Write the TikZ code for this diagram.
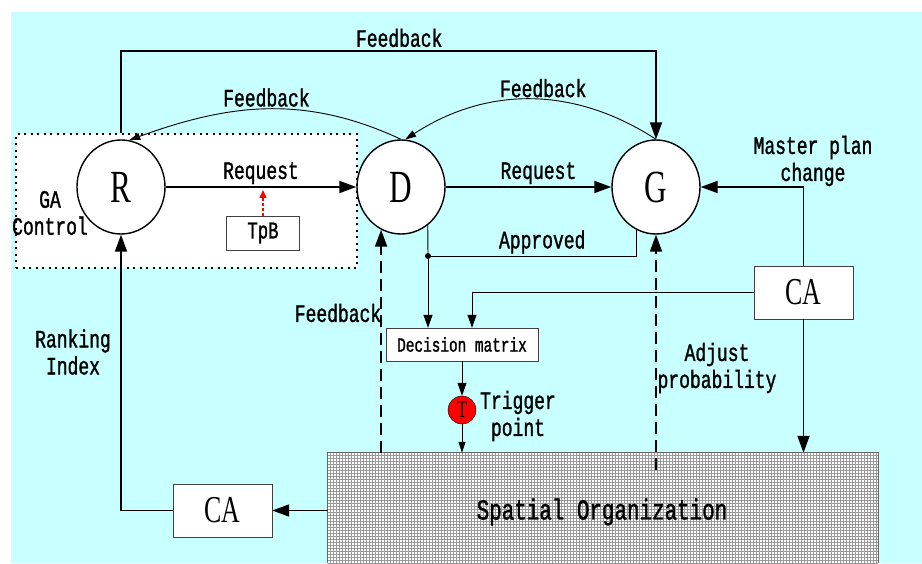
\documentclass[tikz,border=0pt]{standalone}
\usepackage{fontspec}
\usetikzlibrary{arrows.meta,positioning,shapes.geometric,patterns}
\newfontfamily\lblfont[FakeStretch=0.72,FakeBold=1.2]{Liberation Mono}
\newfontfamily\bigfont[FakeStretch=0.68]{Liberation Serif}
\definecolor{skycyan}{HTML}{C8FFFF}
\tikzset{
  lbl/.style={font=\lblfont\fontsize{25}{27}\selectfont, align=center, inner sep=2pt},
  agent/.style={draw, ellipse, line width=1.4pt, fill=white, minimum width=88pt,
    minimum height=94pt, inner sep=0pt, font=\bigfont\fontsize{46}{46}\selectfont},
  cabox/.style={draw=black!75, fill=white, minimum width=99pt, minimum height=53pt,
    inner sep=0pt, font=\bigfont\fontsize{38}{38}\selectfont},
  smallbox/.style={draw=black!75, fill=white, inner sep=0pt},
  bigarrow/.style={line width=1.8pt, -{Triangle[length=17pt,width=12pt]}},
  thinarrow/.style={line width=0.9pt, -{Triangle[length=13pt,width=9pt]}},
  curvearrow/.style={line width=0.9pt, -{Triangle[length=11pt,width=7pt]}},
  dasharrow/.style={bigarrow, dash pattern=on 12pt off 6pt},
}

\begin{document}
\begin{tikzpicture}[x=1pt, y=1pt]
  \useasboundingbox (0,0) rectangle (922,563);
  \fill[skycyan] (11,0) rectangle (922,551);

  % GA control group
  \node[draw, line width=2.2pt, dash pattern=on 2pt off 4.5pt, fill=white,
    minimum width=341pt, minimum height=134pt, inner sep=0pt] (gabox) at (186.5,362) {};

  % agents
  \node[agent] (R) at (121,376) {R};
  \node[agent] (D) at (401,376) {D};
  \node[agent] (G) at (656,376) {G};

  \node[smallbox, minimum width=73pt, minimum height=34pt,
    font=\lblfont\fontsize{24}{24}\selectfont] (tpb) at (263,330) {TpB};
  \node[smallbox, minimum width=152pt, minimum height=33pt,
    font=\lblfont\fontsize{20}{20}\selectfont] (dm) at (462,218.5) {Decision matrix};
  \node[circle, draw, fill=red, minimum size=28pt, inner sep=0pt,
    font=\bigfont\fontsize{24}{24}\selectfont] (T) at (462,153) {T};
  \node[cabox] (caR) at (803.5,270.5) {CA};
  \node[cabox] (caL) at (222.5,52.5) {CA};

  % spatial organization
  \node[minimum width=550pt, minimum height=110pt, preaction={fill=white},
    pattern=grid, pattern color=black!40] (space) at (603,55) {};
  \draw[black!60, line width=0.8pt] (space.south west) -- (space.north west)
    -- (space.north east) -- (space.south east);
  \node[lbl, font=\lblfont\fontsize{29}{29}\selectfont] (spacetxt) at (602,51) {Spatial Organization};

  \coordinate (fbtop) at (400,512);
  \coordinate (tpbtip) at (263,373);
  \node[circle, fill, inner sep=0pt, minimum size=6pt] (jn) at (428,307) {};

  % requests
  \draw[bigarrow] (R) -- node[lbl, above] {Request} (D);
  \draw[bigarrow] (D) -- node[lbl, above, pos=0.56] {Request} (G);
  \draw[red, line width=1.4pt, dash pattern=on 3pt off 2pt, -{Triangle[length=8pt,width=7pt]}] (tpb.north) -- (tpbtip);

  % feedback loops
  \draw[bigarrow] (R.north |- gabox.north) -- (R.north |- fbtop)
    -- node[lbl, above=1pt, pos=0.52] {Feedback} (G.north |- fbtop) -- (G.north);
  \draw[curvearrow] (D.north) to[out=155, in=20] node[lbl, above] {Feedback} (R.80);
  \draw[curvearrow] (G.north) to[out=147, in=33] node[lbl, above, pos=0.45] {Feedback} (D.85);

  % approval
  \draw[line width=0.9pt] (G.-114) |- node[lbl, above, pos=0.73] {Approved} (jn);
  \draw[line width=0.9pt] (D.-55) -- (jn);
  \draw[thinarrow] (jn) -- (jn |- dm.north);

  % CA on the right
  \draw[bigarrow] (caR.north) |- (G.east);
  \draw[thinarrow] (caR.west) -| ([xshift=10pt]dm.north);
  \draw[bigarrow] (caR.south) -- (caR.south |- space.north);

  % dashed feedbacks
  \draw[dasharrow] (space.north -| D.-115) -- (D.-115);
  \draw[dasharrow] ([yshift=-17pt]space.north -| G.south) -- (G.south);

  % trigger
  \draw[thinarrow] (dm) -- (T);
  \draw[line width=0.9pt, -{Triangle[length=11pt,width=7pt]}] (T) -- (T |- space.north);

  % CA on the left
  \draw[bigarrow] (caL.east -| space.west) -- (caL.east);
  \draw[bigarrow] (caL.west) -| (R.south);

  % labels
  \node[lbl] (gactl) at (50,350) {GA\\Control};
  \node[lbl] (rank) at (73,211) {Ranking\\Index};
  \node[lbl] (mplan) at (813,402) {Master plan\\change};
  \node[lbl] (adj) at (717,195) {Adjust\\probability};
  \node[lbl] (trig) at (518,147) {Trigger\\point};
  \node[lbl] (fbd) at (338,250) {Feedback};
\end{tikzpicture}
\end{document}
